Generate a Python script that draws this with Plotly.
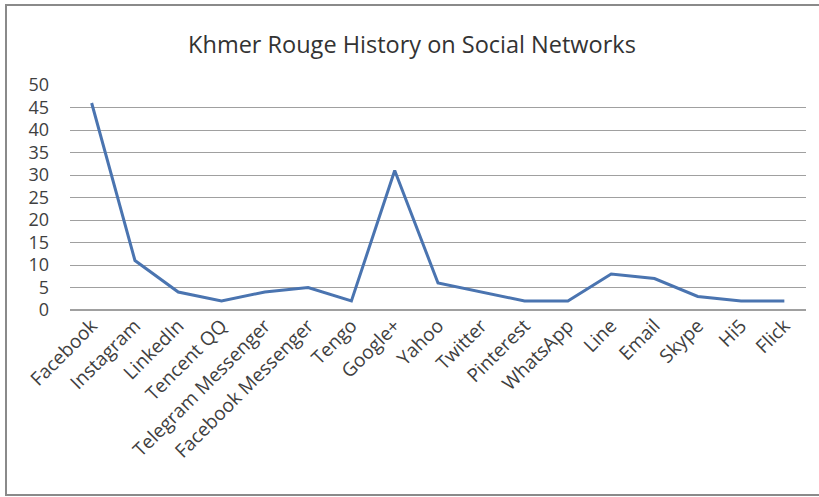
import plotly.graph_objects as go

categories = ["Facebook", "Instagram", "LinkedIn", "Tencent QQ", "Telegram Messenger",
              "Facebook Messenger", "Tengo", "Google+", "Yahoo", "Twitter", "Pinterest",
              "WhatsApp", "Line", "Email", "Skype", "Hi5", "Flick"]
values = [46, 11, 4, 2, 4, 5, 2, 31, 6, 4, 2, 2, 8, 7, 3, 2, 2]
y_ticks = [0, 5, 10, 15, 20, 25, 30, 35, 40, 45, 50]

W, H = 819, 497
L, R, T, B = 70, 13, 85, 187
pw, ph = W - L - R, H - T - B

fig = go.Figure()
fig.add_trace(go.Scatter(x=categories, y=values, mode="lines",
                         line=dict(color="#4a74b0", width=3)))

fig.update_layout(
    width=W, height=H,
    margin=dict(l=L, r=R, t=T, b=B, autoexpand=False),
    paper_bgcolor="white", plot_bgcolor="white",
    showlegend=False,
    title=dict(text="Khmer Rouge History on Social Networks", x=412 / W, xanchor="center",
               y=1 - 45 / H, yanchor="middle",
               font=dict(family="Open Sans", size=23.5, color="#333333")),
    font=dict(family="Open Sans", size=18, color="#404040"),
)
fig.update_xaxes(type="category", tickangle=-45, showgrid=False, showline=False,
                 ticks="", range=[-0.5, len(categories) - 0.5], automargin=False,
                 tickfont=dict(size=19, color="#404040"))
fig.update_yaxes(range=[0, 50], tickvals=y_ticks, showgrid=True, gridcolor="#a0a0a0",
                 gridwidth=1, zeroline=True, zerolinecolor="#a0a0a0", showline=False,
                 ticks="", ticklabelstandoff=20, automargin=False,
                 tickfont=dict(size=18, color="#404040"))
fig.add_shape(type="rect", xref="paper", yref="paper",
              x0=(6 - L) / pw, x1=(860 - L) / pw,
              y0=-(495 - (T + ph)) / ph, y1=((T + ph) - 5) / ph,
              line=dict(color="#8a8a8a", width=2), fillcolor="rgba(0,0,0,0)")
fig.write_html("out.html", config={"displayModeBar": False},
               post_script="document.body.style.margin='0px';document.body.style.overflow='hidden';")
